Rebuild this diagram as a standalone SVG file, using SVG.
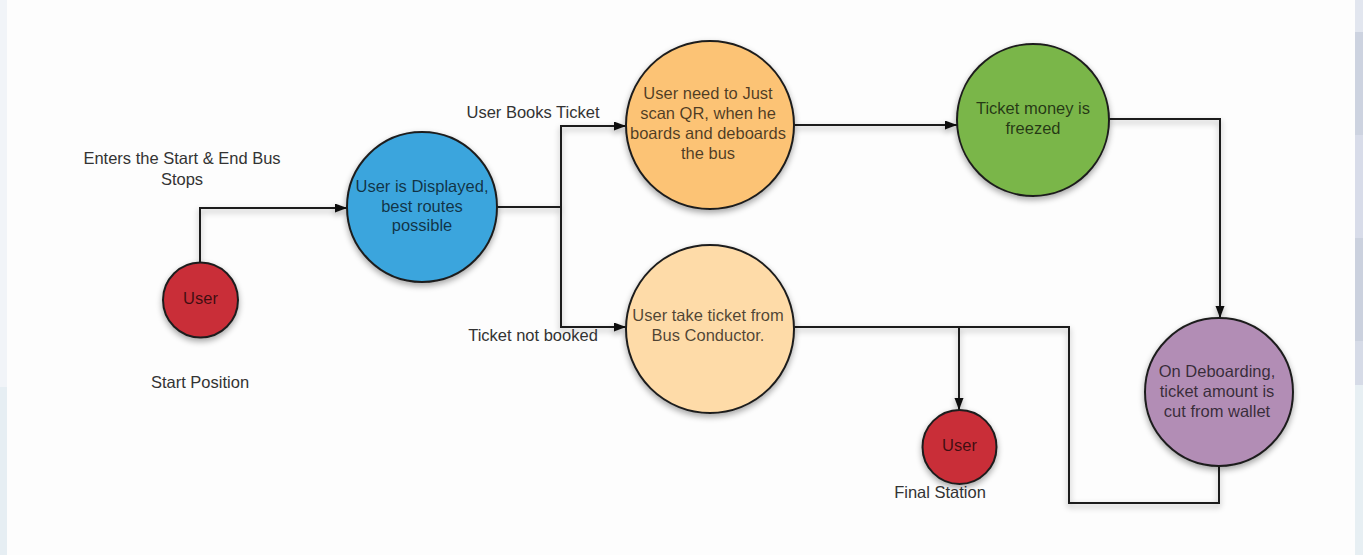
<svg xmlns="http://www.w3.org/2000/svg" width="1363" height="555" viewBox="0 0 1363 555">
<style>
  .node { stroke: #1e1e1e; stroke-width: 2; }
  .ntext { font-family: "Liberation Sans", Arial, sans-serif; font-size: 16.5px; fill: #000; fill-opacity: 0.7; text-anchor: middle; }
  .label { font-family: "Liberation Sans", Arial, sans-serif; font-size: 16.5px; fill: #333; text-anchor: middle; }
  .conn { fill: none; stroke: #1e1e1e; stroke-width: 2; }
</style>
<defs>
  <filter id="shadow" x="-20%" y="-20%" width="140%" height="140%">
    <feGaussianBlur in="SourceAlpha" stdDeviation="3"/>
    <feOffset dx="0" dy="3" result="b"/>
    <feComponentTransfer><feFuncA type="linear" slope="0.35"/></feComponentTransfer>
    <feMerge><feMergeNode/><feMergeNode in="SourceGraphic"/></feMerge>
  </filter>
  <marker id="arrow" markerUnits="userSpaceOnUse" markerWidth="13" markerHeight="10" refX="12" refY="4.5" orient="auto">
    <path d="M0,0 L12,4.5 L0,9 z" fill="#111"/>
  </marker>
</defs>
<rect x="0" y="0" width="1363" height="555" fill="#fdfdfd"/>
<g id="background-strips">
  <rect x="0" y="0" width="7" height="387" fill="#f1f4f8"/>
  <rect x="0" y="387" width="7" height="168" fill="#e6eef3"/>
  <rect x="1355" y="0" width="8" height="32" fill="#e2e6ef"/>
  <rect x="1355" y="32" width="8" height="103" fill="#cdd3e0"/>
  <rect x="1355" y="135" width="8" height="103" fill="#d8dce9"/>
  <rect x="1355" y="238" width="8" height="103" fill="#cbd1de"/>
  <rect x="1355" y="341" width="8" height="44" fill="#d6dbe7"/>
  <rect x="1355" y="385" width="8" height="170" fill="#e7eff3"/>
</g>
<g id="connectors" filter="url(#shadow)">
  <path class="conn" d="M200,262 V208 H347" marker-end="url(#arrow)"/>
  <path class="conn" d="M497,207 H561 V126 H626" marker-end="url(#arrow)"/>
  <path class="conn" d="M561,207 V327 H626" marker-end="url(#arrow)"/>
  <path class="conn" d="M794,125 H957" marker-end="url(#arrow)"/>
  <path class="conn" d="M1109,119 H1220 V318" marker-end="url(#arrow)"/>
  <path class="conn" d="M794,327 H959 V410" marker-end="url(#arrow)"/>
  <path class="conn" d="M959,327 H1069 V503 H1219 V466"/>
</g>
<g id="labels">
  <text class="label" x="182" y="164">Enters the Start &amp; End Bus</text>
  <text class="label" x="182" y="185">Stops</text>
  <text class="label" x="200" y="388">Start Position</text>
  <text class="label" x="533" y="118">User Books Ticket</text>
  <text class="label" x="533" y="341">Ticket not booked</text>
  <text class="label" x="940" y="498">Final Station</text>
</g>
<g id="node-start-user">
  <circle class="node" cx="200.5" cy="300" r="37.5" fill="#c92d39" filter="url(#shadow)"/>
  <text class="ntext" x="200.5" y="304">User</text>
</g>
<g id="node-routes">
  <circle class="node" cx="422" cy="207" r="75" fill="#3aa5dd" filter="url(#shadow)"/>
  <text class="ntext" x="422" y="192">User is Displayed,</text>
  <text class="ntext" x="422" y="212">best routes</text>
  <text class="ntext" x="422" y="231">possible</text>
</g>
<g id="node-scan-qr">
  <circle class="node" cx="710" cy="125" r="84" fill="#fcc374" filter="url(#shadow)"/>
  <text class="ntext" x="708" y="99">User need to Just</text>
  <text class="ntext" x="708" y="119">scan QR, when he</text>
  <text class="ntext" x="708" y="139">boards and deboards</text>
  <text class="ntext" x="708" y="159">the bus</text>
</g>
<g id="node-conductor">
  <circle class="node" cx="710" cy="329" r="84" fill="#fedba8" filter="url(#shadow)"/>
  <text class="ntext" x="708" y="321">User take ticket from</text>
  <text class="ntext" x="708" y="341">Bus Conductor.</text>
</g>
<g id="node-freezed">
  <circle class="node" cx="1033" cy="120" r="76" fill="#7ab648" filter="url(#shadow)"/>
  <text class="ntext" x="1033" y="114">Ticket money is</text>
  <text class="ntext" x="1033" y="134">freezed</text>
</g>
<g id="node-final-user">
  <circle class="node" cx="959.5" cy="447" r="37" fill="#c92d39" filter="url(#shadow)"/>
  <text class="ntext" x="959.5" y="451">User</text>
</g>
<g id="node-deboarding">
  <circle class="node" cx="1219" cy="392" r="74" fill="#b28db5" filter="url(#shadow)"/>
  <text class="ntext" x="1217" y="377">On Deboarding,</text>
  <text class="ntext" x="1217" y="397">ticket amount is</text>
  <text class="ntext" x="1217" y="417">cut from wallet</text>
</g>
</svg>
